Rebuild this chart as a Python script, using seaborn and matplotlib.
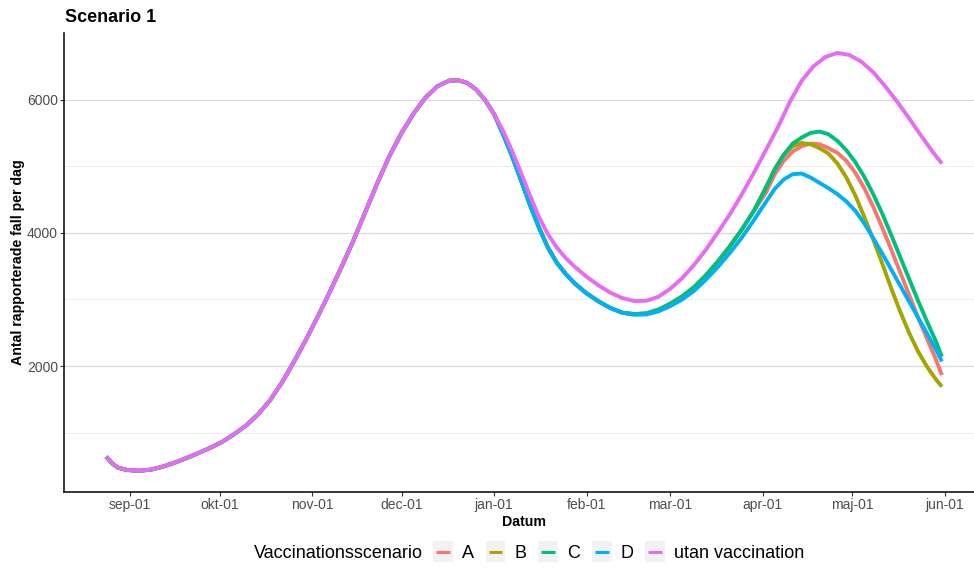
import pandas as pd
import numpy as np
import matplotlib
matplotlib.use('Agg')
import matplotlib.pyplot as plt
import seaborn as sns
from matplotlib.lines import Line2D
from matplotlib.patches import Rectangle
from matplotlib.legend_handler import HandlerBase

# shared start of the curve (identical for every scenario up to new year)
early_dates = ['2020-08-24', '2020-08-26', '2020-08-28', '2020-08-31', '2020-09-04', '2020-09-08',
               '2020-09-12', '2020-09-16', '2020-09-20', '2020-09-24', '2020-09-28', '2020-10-02',
               '2020-10-06', '2020-10-10', '2020-10-14', '2020-10-18', '2020-10-22', '2020-10-26',
               '2020-10-30', '2020-11-03', '2020-11-07', '2020-11-11', '2020-11-15', '2020-11-19',
               '2020-11-23', '2020-11-27', '2020-12-01', '2020-12-05', '2020-12-09', '2020-12-13',
               '2020-12-17', '2020-12-20', '2020-12-23', '2020-12-26', '2020-12-29', '2021-01-01']
early_cases = [640, 540, 475, 440, 428, 445, 490, 550, 620, 695, 775, 865,
               980, 1110, 1280, 1490, 1760, 2070, 2400, 2750, 3120, 3500, 3900, 4330,
               4760, 5160, 5500, 5790, 6030, 6200, 6285, 6290, 6250, 6150, 5990, 5780]

# utan vaccination, 2021
utan_dates = ['2021-01-04', '2021-01-07', '2021-01-10', '2021-01-13', '2021-01-16', '2021-01-19',
              '2021-01-22', '2021-01-25', '2021-01-28', '2021-02-01', '2021-02-05', '2021-02-09',
              '2021-02-13', '2021-02-17', '2021-02-21', '2021-02-25', '2021-03-01', '2021-03-05',
              '2021-03-09', '2021-03-13', '2021-03-17', '2021-03-21', '2021-03-25', '2021-03-29',
              '2021-04-02', '2021-04-06', '2021-04-10', '2021-04-14', '2021-04-18', '2021-04-22',
              '2021-04-26', '2021-04-30', '2021-05-04', '2021-05-08', '2021-05-12', '2021-05-16',
              '2021-05-20', '2021-05-24', '2021-05-28', '2021-05-31']
utan_cases = [5530, 5230, 4900, 4560, 4240, 3980, 3780, 3620, 3490, 3340, 3210, 3100,
              3020, 2975, 2980, 3040, 3160, 3320, 3520, 3750, 4010, 4280, 4580, 4900,
              5240, 5580, 5960, 6280, 6500, 6640, 6700, 6670, 6570, 6410, 6200, 5970,
              5720, 5460, 5210, 5040]

# vaccination scenarios, 2021
scen_dates = ['2021-01-04', '2021-01-07', '2021-01-10', '2021-01-13', '2021-01-16', '2021-01-19',
              '2021-01-22', '2021-01-25', '2021-01-28', '2021-02-01', '2021-02-05', '2021-02-09',
              '2021-02-13', '2021-02-17', '2021-02-21', '2021-02-25', '2021-03-01', '2021-03-05',
              '2021-03-09', '2021-03-13', '2021-03-17', '2021-03-21', '2021-03-25', '2021-03-29',
              '2021-04-02', '2021-04-05', '2021-04-08', '2021-04-11', '2021-04-14', '2021-04-17',
              '2021-04-20', '2021-04-23', '2021-04-26', '2021-04-29', '2021-05-02', '2021-05-05',
              '2021-05-08', '2021-05-11', '2021-05-14', '2021-05-17', '2021-05-20', '2021-05-23',
              '2021-05-26', '2021-05-29', '2021-05-31']
scen_A = [5480, 5150, 4790, 4420, 4080, 3780, 3550, 3380, 3240, 3090, 2970, 2870,
          2800, 2780, 2790, 2845, 2935, 3045, 3185, 3365, 3570, 3800, 4050, 4330,
          4600, 4880, 5080, 5220, 5300, 5340, 5330, 5270, 5200, 5080, 4900, 4670,
          4390, 4080, 3750, 3410, 3070, 2730, 2410, 2100, 1865]
scen_B = [5480, 5150, 4790, 4420, 4080, 3780, 3550, 3380, 3240, 3090, 2970, 2870,
          2800, 2780, 2790, 2845, 2935, 3045, 3185, 3365, 3570, 3800, 4050, 4330,
          4680, 4960, 5170, 5300, 5350, 5330, 5270, 5190, 5040, 4830, 4560, 4240,
          3900, 3540, 3170, 2820, 2500, 2220, 1990, 1800, 1690]
scen_C = [5480, 5150, 4790, 4420, 4080, 3780, 3550, 3380, 3240, 3090, 2970, 2870,
          2800, 2780, 2790, 2845, 2935, 3045, 3185, 3365, 3570, 3800, 4050, 4330,
          4670, 4950, 5170, 5340, 5430, 5500, 5520, 5480, 5380, 5240, 5060, 4840,
          4580, 4290, 3970, 3640, 3310, 2980, 2670, 2370, 2140]
scen_D = [5480, 5150, 4790, 4420, 4080, 3780, 3550, 3380, 3240, 3090, 2970, 2870,
          2800, 2770, 2775, 2820, 2900, 3000, 3130, 3300, 3490, 3700, 3930, 4190,
          4460, 4660, 4800, 4880, 4890, 4830, 4750, 4670, 4580, 4470, 4330, 4140,
          3920, 3690, 3450, 3210, 2970, 2730, 2490, 2250, 2070]

scenarios = ['A', 'B', 'C', 'D', 'utan vaccination']
colors = ['#F8766D', '#A3A500', '#00BF7D', '#00B0F6', '#E76BF3']
month_ticks = ['2020-09-01', '2020-10-01', '2020-11-01', '2020-12-01', '2021-01-01',
               '2021-02-01', '2021-03-01', '2021-04-01', '2021-05-01', '2021-06-01']
month_labels = ['sep-01', 'okt-01', 'nov-01', 'dec-01', 'jan-01',
                'feb-01', 'mar-01', 'apr-01', 'maj-01', 'jun-01']

parts = {
    'A': (early_dates + scen_dates, early_cases + scen_A),
    'B': (early_dates + scen_dates, early_cases + scen_B),
    'C': (early_dates + scen_dates, early_cases + scen_C),
    'D': (early_dates + scen_dates, early_cases + scen_D),
    'utan vaccination': (early_dates + utan_dates, early_cases + utan_cases),
}
frames = []
for name, (d, v) in parts.items():
    frames.append(pd.DataFrame({'Datum': pd.to_datetime(d), 'fall': v, 'scenario': name}))
df = pd.concat(frames, ignore_index=True)

sns.set_theme(style='white')
plt.rcParams['font.family'] = ['Liberation Sans', 'DejaVu Sans']
plt.rcParams['text.color'] = 'black'

fig = plt.figure(figsize=(9.74, 5.69), dpi=100)
ax = fig.add_axes([64.3 / 974, 1 - 491.5 / 569, 919.4 / 974, 458.2 / 569])

sns.lineplot(data=df, x='Datum', y='fall', hue='scenario', hue_order=scenarios,
             palette=colors, linewidth=2.8, estimator=None, legend=False, ax=ax,
             solid_capstyle='butt', solid_joinstyle='round')

ax.set_xlim(pd.Timestamp('2020-08-10'), pd.Timestamp('2021-06-14'))
ax.set_ylim(117, 6995)
ax.set_xticks(pd.to_datetime(month_ticks))
ax.set_xticklabels(month_labels)
ax.set_yticks([2000, 4000, 6000])
ax.set_yticklabels(['2000', '4000', '6000'])
ax.set_yticks([1000, 3000, 5000], minor=True)
ax.set_xlabel('')
ax.set_ylabel('')

ax.set_axisbelow(True)
ax.grid(False)
ax.grid(axis='y', which='major', color='#D9D9D9', linewidth=0.9)
ax.grid(axis='y', which='minor', color='#EBEBEB', linewidth=0.6)
ax.tick_params(axis='both', which='major', length=3, width=0.8, color='#333333',
               labelsize=10, labelcolor='#4D4D4D', pad=1.5, left=True, bottom=True)
ax.tick_params(axis='y', which='minor', length=0)
for s in ['top', 'right']:
    ax.spines[s].set_visible(False)
for s in ['left', 'bottom']:
    ax.spines[s].set_color('black')
    ax.spines[s].set_linewidth(1.1)

fig.text(65 / 974, 1 - 17 / 569, 'Scenario 1', fontsize=13, fontweight='bold', ha='left', va='center')
fig.text(18 / 974, 1 - 262 / 569, 'Antal rapporterade fall per dag', fontsize=10.2,
         fontweight='bold', rotation=90, ha='center', va='center')
fig.text(524 / 974, 1 - 521.5 / 569, 'Datum', fontsize=10.2, fontweight='bold', ha='center', va='center')


class KeyHandler(HandlerBase):
    def create_artists(self, legend, orig_handle, xdescent, ydescent, width, height, fontsize, trans):
        yc = height / 2 - ydescent
        box = Rectangle((-xdescent, yc - 7.6), width, 15.2, facecolor='#F2F2F2',
                        edgecolor='none', transform=trans)
        line = Line2D([-xdescent + 2.2, -xdescent + width - 2.2], [yc, yc],
                      color=orig_handle.get_color(), lw=2.2, solid_capstyle='butt', transform=trans)
        return [box, line]


handles = [Line2D([], [], color=c) for c in colors]
fig.text(423 / 974, 1 - 553.5 / 569, 'Vaccinationsscenario', fontsize=13, ha='right', va='center')
fig.legend(handles, scenarios, loc='center left', bbox_to_anchor=(433 / 974, 1 - 553.5 / 569),
           ncol=5, frameon=False, fontsize=13, handlelength=1.1, handletextpad=0.5,
           columnspacing=0.65, borderpad=0, borderaxespad=0, labelcolor='black',
           handler_map={Line2D: KeyHandler()})

fig.savefig('out.png', dpi=100)
